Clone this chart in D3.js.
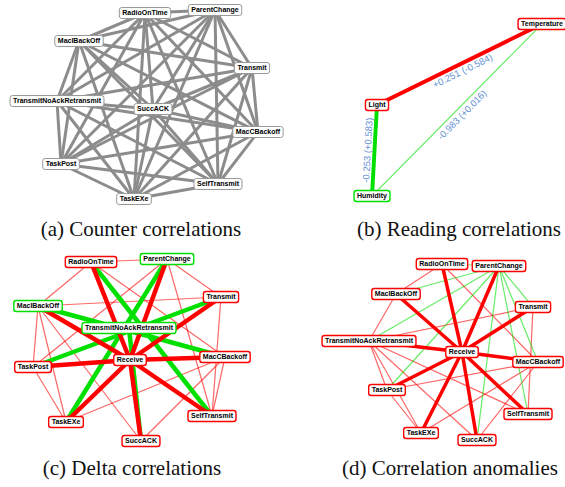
<!DOCTYPE html>
<html>
<head>
<meta charset="utf-8">
<script src="https://cdnjs.cloudflare.com/ajax/libs/d3/7.8.5/d3.min.js"></script>
<style>
body { margin: 0; background: #fff; }
svg { display: block; }
.node text { font-family: "Liberation Sans", Arial, sans-serif; font-weight: bold; font-size: 7px; fill: #000; }
.elabel { font-family: "Liberation Sans", Arial, sans-serif; font-size: 9.5px; fill: #5f8fd4; }
.caption { font-family: "Liberation Serif", "Times New Roman", serif; font-size: 21px; fill: #111; }
</style>
</head>
<body>
<div id="container"></div>
<script>
// (a) counter correlations: every counter pair is correlated
const COUNTER_NODES = ["RadioOnTime", "ParentChange", "MacIBackOff", "Transmit",
		       "TransmitNoAckRetransmit", "SuccACK", "MacCBackoff",
		       "TaskPost", "SelfTransmit", "TaskEXe"];
const COUNTER_X = [145, 215, 79, 252, 57, 153, 258, 61, 218, 134];
const COUNTER_Y = [13, 10, 41, 68, 101, 109, 132, 164, 184, 199];

// (b) reading correlations
const READING_NODES = ["Temperature", "Light", "Humidity"];
const READING_X = [252, 87, 82];
const READING_Y = [24, 105, 196];
const READING_NODE_SIGN = ["pos", "pos", "neg"];
const READING_EDGES = [["Light", "Temperature"], ["Humidity", "Temperature"], ["Light", "Humidity"]];
const READING_CORR = [0.251, -0.983, -0.253];
const READING_DELTA = [-0.584, 0.016, 0.583];

// (c) delta correlations
const DELTA_NODES = ["RadioOnTime", "ParentChange", "Transmit", "MacIBackOff",
		     "TransmitNoAckRetransmit", "Receive", "MacCBackoff", "TaskPost",
		     "TaskEXe", "SelfTransmit", "SuccACK"];
const DELTA_X = [91, 167, 221, 38, 129, 130, 225, 33, 66, 212, 141];
const DELTA_Y = [17, 14, 52, 61, 83, 115, 112, 122, 177, 171, 196];
const DELTA_NODE_SIGN = ["pos", "neg", "pos", "neg", "neg", "pos", "pos", "pos", "pos", "pos", "pos"];
const DELTA_WEAK_POS = [["RadioOnTime", "ParentChange"], ["RadioOnTime", "MacIBackOff"],
			["RadioOnTime", "MacCBackoff"], ["ParentChange", "TaskPost"],
			["ParentChange", "Transmit"], ["ParentChange", "SelfTransmit"],
			["MacIBackOff", "Transmit"], ["MacIBackOff", "TaskPost"],
			["MacIBackOff", "TaskEXe"], ["MacIBackOff", "SuccACK"],
			["Transmit", "SelfTransmit"], ["MacCBackoff", "TaskEXe"],
			["MacCBackoff", "SuccACK"], ["MacCBackoff", "SelfTransmit"],
			["TaskPost", "TaskEXe"]];
const DELTA_STRONG_NEG = [["RadioOnTime", "SelfTransmit"], ["ParentChange", "TaskEXe"],
			  ["TransmitNoAckRetransmit", "SuccACK"], ["MacIBackOff", "MacCBackoff"],
			  ["Transmit", "TaskPost"]];
const DELTA_STRONG_POS = [["RadioOnTime", "Receive"], ["ParentChange", "Receive"],
			  ["MacIBackOff", "Receive"], ["Transmit", "Receive"],
			  ["TaskPost", "Receive"], ["Receive", "MacCBackoff"],
			  ["Receive", "TaskEXe"], ["Receive", "SelfTransmit"],
			  ["Receive", "SuccACK"]];

// (d) correlation anomalies
const ANOM_NODES = ["RadioOnTime", "ParentChange", "MacIBackOff", "Transmit",
		    "TransmitNoAckRetransmit", "Receive", "MacCBackoff", "TaskPost",
		    "SelfTransmit", "TaskEXe", "SuccACK"];
const ANOM_X = [152, 209, 106, 243, 79, 172, 248, 97, 238, 131, 187];
const ANOM_Y = [19, 21, 49, 62, 96, 107, 117, 145, 169, 188, 195];
const ANOM_WEAK_POS = [["RadioOnTime", "MacIBackOff"], ["RadioOnTime", "MacCBackoff"],
		       ["MacIBackOff", "TransmitNoAckRetransmit"], ["Transmit", "TransmitNoAckRetransmit"],
		       ["Transmit", "SelfTransmit"], ["TransmitNoAckRetransmit", "TaskPost"],
		       ["TransmitNoAckRetransmit", "TaskEXe"], ["TransmitNoAckRetransmit", "SuccACK"],
		       ["TransmitNoAckRetransmit", "SelfTransmit"], ["MacCBackoff", "TaskPost"],
		       ["MacCBackoff", "TaskEXe"], ["MacCBackoff", "SuccACK"],
		       ["TaskPost", "TaskEXe"]];
const ANOM_WEAK_NEG = [["RadioOnTime", "ParentChange"], ["ParentChange", "MacIBackOff"],
		       ["ParentChange", "TransmitNoAckRetransmit"], ["ParentChange", "TaskPost"],
		       ["ParentChange", "SuccACK"], ["ParentChange", "SelfTransmit"],
		       ["ParentChange", "MacCBackoff"], ["ParentChange", "Transmit"]];
const ANOM_STRONG_POS = [["RadioOnTime", "Receive"], ["ParentChange", "Receive"],
			 ["MacIBackOff", "Receive"], ["Transmit", "Receive"],
			 ["TransmitNoAckRetransmit", "Receive"], ["Receive", "MacCBackoff"],
			 ["Receive", "TaskPost"], ["Receive", "TaskEXe"],
			 ["Receive", "SuccACK"], ["Receive", "SelfTransmit"]];

const CAPTIONS = ["(a) Counter correlations", "(b) Reading correlations",
		  "(c) Delta correlations", "(d) Correlation anomalies"];

var RED = "#ff0000", GREEN = "#00e000", GREY = "#8c8c8c";
var PANEL_W = 275, PANEL_H = 215;

var svg = d3.select("#container").append("svg")
    .attr("width", 565)
    .attr("height", 487);

var sign_color = d3.scaleOrdinal().domain(["pos", "neg", "none"]).range([RED, GREEN, "#a0a0a0"]);

var fmt = function( v )
{
    return ( v < 0 ? "-" : "+" ) + Math.abs(v).toFixed(3);
}

var tag = function( pairs, sign, strong )
{
    return pairs.map(function(p){ return { s: p[0], t: p[1], sign: sign, strong: strong }; });
}

var draw_panel = function( p )
{
    var g = svg.append("g");
    var x = d3.scaleLinear().domain([0, PANEL_W]).range([p.ox, p.ox + PANEL_W]);
    var y = d3.scaleLinear().domain([0, PANEL_H]).range([p.oy, p.oy + PANEL_H]);

    var pos = {};
    p.nodes.forEach(function(n, i){ pos[n] = [x(p.nx[i]), y(p.ny[i])]; });

    g.selectAll("line.edge")
	.data(p.edges)
	.enter()
	.append("line")
	.classed("edge", true)
	.attr("x1", function(d){ return pos[d.s][0]; })
	.attr("y1", function(d){ return pos[d.s][1]; })
	.attr("x2", function(d){ return pos[d.t][0]; })
	.attr("y2", function(d){ return pos[d.t][1]; })
	.attr("stroke", function(d){ return p.grey ? GREY : sign_color(d.sign); })
	.attr("stroke-opacity", function(d){ return d.strong ? 1 : 0.6; })
	.attr("stroke-width", function(d){ return d.width || (d.strong ? p.thick : 1.2); });

    // correlation labels, only for reading panel
    if ( p.labels ) {
	g.selectAll("text.elabel")
	    .data(p.edges)
	    .enter()
	    .append("text")
	    .classed("elabel", true)
	    .attr("text-anchor", "middle")
	    .attr("dy", "0.35em")
	    .attr("transform", function(d){
		var a = pos[d.s], b = pos[d.t];
		var dx = b[0] - a[0], dy = b[1] - a[1];
		var len = Math.sqrt(dx * dx + dy * dy);
		var mx = (a[0] + b[0]) / 2 - dy / len * 7;
		var my = (a[1] + b[1]) / 2 + dx / len * 7;
		var ang = Math.atan2(dy, dx) * 180 / Math.PI;
		if ( ang > 90 ) ang -= 180;
		if ( ang < -90 ) ang += 180;
		return "translate(" + mx + "," + my + ") rotate(" + ang + ")";
	    })
	    .text(function(d){ return d.label; });
    }

    var nodes = g.selectAll("g.node")
	.data(p.nodes)
	.enter()
	.append("g")
	.classed("node", true)
	.attr("transform", function(n){ return "translate(" + pos[n][0] + "," + pos[n][1] + ")"; });

    var rects = nodes.append("rect");
    var labels = nodes.append("text")
	.attr("text-anchor", "middle")
	.attr("dy", "0.35em")
	.text(function(n){ return n; });

    labels.each(function(n){
	var w = d3.select(this).node().getComputedTextLength() + 6;
	d3.select(this.parentNode).select("rect")
	    .attr("x", -w / 2)
	    .attr("y", -5.5)
	    .attr("width", w)
	    .attr("height", 11)
	    .attr("rx", 2.5)
	    .attr("fill", "#fff")
	    .attr("stroke", p.grey ? "#999" : sign_color(p.nodeSign[p.nodes.indexOf(n)]))
	    .attr("stroke-width", p.grey ? 1 : 1.4);
    });
}

// complete graph for counters
var counter_edges = [];
COUNTER_NODES.forEach(function(a, i){
    COUNTER_NODES.forEach(function(b, j){
	if ( j > i ) counter_edges.push({ s: a, t: b, sign: "none", strong: true, width: 3 });
    });
});

var reading_width = d3.scaleLinear().domain([0, 0.6]).range([1, 4]);
var reading_edges = READING_EDGES.map(function(e, i){
    return { s: e[0], t: e[1],
	     sign: READING_CORR[i] > 0 ? "pos" : "neg",
	     strong: Math.abs(READING_DELTA[i]) > 0.1,
	     width: reading_width(Math.abs(READING_DELTA[i])),
	     label: fmt(READING_CORR[i]) + " (" + fmt(READING_DELTA[i]) + ")" };
});

var panels = [
    { ox: 0, oy: 0, nodes: COUNTER_NODES, nx: COUNTER_X, ny: COUNTER_Y,
      edges: counter_edges, grey: true },
    { ox: 290, oy: 0, nodes: READING_NODES, nx: READING_X, ny: READING_Y,
      nodeSign: READING_NODE_SIGN, edges: reading_edges, labels: true },
    { ox: 0, oy: 245, nodes: DELTA_NODES, nx: DELTA_X, ny: DELTA_Y,
      nodeSign: DELTA_NODE_SIGN, thick: 4.5,
      edges: tag(DELTA_WEAK_POS, "pos", false)
	.concat(tag(DELTA_STRONG_NEG, "neg", true))
	.concat(tag(DELTA_STRONG_POS, "pos", true)) },
    { ox: 290, oy: 245, nodes: ANOM_NODES, nx: ANOM_X, ny: ANOM_Y,
      nodeSign: ANOM_NODES.map(function(){ return "pos"; }), thick: 3.5,
      edges: tag(ANOM_WEAK_POS, "pos", false)
	.concat(tag(ANOM_WEAK_NEG, "neg", false))
	.concat(tag(ANOM_STRONG_POS, "pos", true)) }
];

panels.forEach(draw_panel);

var CAPTION_X = [141, 459, 132, 450];
var CAPTION_Y = [229, 229, 468, 468];

svg.selectAll("text.caption")
    .data(CAPTIONS)
    .enter()
    .append("text")
    .classed("caption", true)
    .attr("text-anchor", "middle")
    .attr("dy", "0.35em")
    .attr("x", function(_, i){ return CAPTION_X[i]; })
    .attr("y", function(_, i){ return CAPTION_Y[i]; })
    .text(function(d){ return d; });
</script>
</body>
</html>
